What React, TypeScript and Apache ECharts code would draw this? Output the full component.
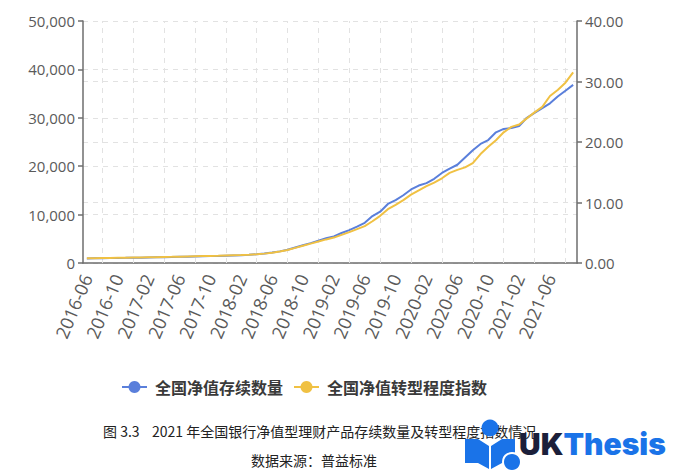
import React, { useEffect, useRef } from 'react';
import * as echarts from 'echarts';

const categories: string[] = [
  '2016-06', '2016-07', '2016-08', '2016-09', '2016-10', '2016-11', '2016-12',
  '2017-01', '2017-02', '2017-03', '2017-04', '2017-05', '2017-06', '2017-07', '2017-08', '2017-09', '2017-10', '2017-11', '2017-12',
  '2018-01', '2018-02', '2018-03', '2018-04', '2018-05', '2018-06', '2018-07', '2018-08', '2018-09', '2018-10', '2018-11', '2018-12',
  '2019-01', '2019-02', '2019-03', '2019-04', '2019-05', '2019-06', '2019-07', '2019-08', '2019-09', '2019-10', '2019-11', '2019-12',
  '2020-01', '2020-02', '2020-03', '2020-04', '2020-05', '2020-06', '2020-07', '2020-08', '2020-09', '2020-10', '2020-11', '2020-12',
  '2021-01', '2021-02', '2021-03', '2021-04', '2021-05', '2021-06', '2021-07', '2021-08', '2021-09',
];

const countData: number[] = [
  950, 970, 990, 1010, 1040, 1060, 1090, 1110, 1140, 1170,
  1200, 1240, 1280, 1310, 1350, 1390, 1430, 1470, 1520, 1570,
  1620, 1700, 1800, 1950, 2150, 2400, 2750, 3200, 3650, 4100,
  4600, 5100, 5500, 6200, 6800, 7500, 8300, 9700, 10600, 12200,
  13000, 14000, 15200, 16000, 16500, 17400, 18600, 19500, 20300, 21800,
  23300, 24600, 25400, 27000, 27700, 27900, 28300, 30000, 31000, 32000,
  33000, 34400, 35600, 36800,
];

const indexData: number[] = [
  0.78, 0.8, 0.82, 0.84, 0.86, 0.88, 0.9, 0.92, 0.95, 0.97,
  1.0, 1.02, 1.05, 1.08, 1.11, 1.14, 1.17, 1.2, 1.24, 1.28,
  1.32, 1.37, 1.44, 1.55, 1.7, 1.9, 2.15, 2.5, 2.85, 3.2,
  3.55, 3.9, 4.2, 4.65, 5.1, 5.6, 6.1, 6.9, 7.8, 8.9,
  9.6, 10.4, 11.3, 12.0, 12.7, 13.3, 14.0, 14.9, 15.4, 15.8,
  16.5, 18.0, 19.2, 20.3, 21.6, 22.5, 22.9, 23.9, 24.9, 25.8,
  27.6, 28.6, 29.8, 31.5,
];

const gridMonths: string[] = [
  '2016-08', '2016-12', '2017-04', '2017-08', '2017-12', '2018-04', '2018-08', '2018-12',
  '2019-04', '2019-08', '2019-12', '2020-04', '2020-08', '2020-12', '2021-04', '2021-08',
];

const seriesNames: string[] = ['全国净值存续数量', '全国净值转型程度指数'];
const captionNumber = '图 3.3';
const captionTitle = '2021 年全国银行净值型理财产品存续数量及转型程度指数情况';
const captionSource = '数据来源：普益标准';

const BLUE = '#5a7fdb';
const YELLOW = '#f0c143';
const AXIS = '#6e6e6e';
const LABEL = '#5a5a5a';
const GRIDLINE = '#e2e2e2';
const LATIN = '"Open Sans", "Noto Sans", sans-serif';
const CJK = '"Noto Sans CJK SC", sans-serif';

export default function App() {
  const ref = useRef<HTMLDivElement>(null);

  useEffect(() => {
    if (!ref.current) return;
    const chart = echarts.init(ref.current, undefined, { renderer: 'svg' });
    const splitLine = { show: true, lineStyle: { color: GRIDLINE, type: [5, 5] as any, width: 1 } };
    chart.setOption({
      animation: false,
      backgroundColor: '#ffffff',
      grid: { left: 83, right: 100, top: 21, bottom: 209, containLabel: false },
      legend: {
        left: 116,
        top: 374,
        itemWidth: 25,
        itemHeight: 15,
        itemGap: 10,
        data: seriesNames,
        textStyle: {
          fontFamily: CJK,
          fontSize: 16,
          fontWeight: 'bold',
          color: '#3a3a3a',
          padding: [0, 0, 0, 3],
        },
      },
      xAxis: {
        type: 'category',
        data: categories,
        boundaryGap: true,
        axisLine: { lineStyle: { color: AXIS, width: 1.5 } },
        axisTick: { alignWithLabel: true, interval: 3, length: 5, lineStyle: { color: AXIS, width: 1.5 } },
        axisLabel: {
          interval: 3,
          rotate: 67,
          margin: 12,
          color: LABEL,
          fontSize: 18,
          fontFamily: LATIN,
        },
        splitLine: { show: false },
      },
      yAxis: [
        {
          type: 'value',
          min: 0,
          max: 50000,
          interval: 10000,
          axisLine: { show: true, lineStyle: { color: AXIS, width: 1.5 } },
          axisTick: { show: true, length: 5, lineStyle: { color: AXIS, width: 1.5 } },
          axisLabel: {
            color: LABEL,
            fontSize: 15,
            fontFamily: LATIN,
            margin: 8,
            formatter: (v: number) => v.toLocaleString('en-US'),
          },
          splitLine,
        },
        {
          type: 'value',
          min: 0,
          max: 40,
          interval: 10,
          position: 'right',
          axisLine: { show: true, lineStyle: { color: AXIS, width: 1.5 } },
          axisTick: { show: true, length: 5, lineStyle: { color: AXIS, width: 1.5 } },
          axisLabel: {
            color: LABEL,
            fontSize: 15,
            fontFamily: LATIN,
            margin: 8,
            formatter: (v: number) => v.toFixed(2),
          },
          splitLine,
        },
      ],
      series: [
        {
          name: seriesNames[0],
          type: 'line',
          yAxisIndex: 0,
          data: countData,
          symbol: 'circle',
          showSymbol: false,
          lineStyle: { color: BLUE, width: 2 },
          itemStyle: { color: BLUE },
          z: 3,
          markLine: {
            silent: true,
            symbol: ['none', 'none'],
            label: { show: false },
            lineStyle: { color: GRIDLINE, type: [5, 5] as any, width: 1 },
            emphasis: { disabled: true },
            animation: false,
            z: 1,
            data: gridMonths.map((m) => ({ xAxis: m })),
          },
        },
        {
          name: seriesNames[1],
          type: 'line',
          yAxisIndex: 1,
          data: indexData,
          symbol: 'circle',
          showSymbol: false,
          lineStyle: { color: YELLOW, width: 2 },
          itemStyle: { color: YELLOW },
          z: 4,
        },
      ],
      graphic: [
        {
          type: 'text',
          left: 103,
          top: 424,
          style: { text: captionNumber, font: `14px ${CJK}`, fill: '#222222' },
        },
        {
          type: 'text',
          left: 152,
          top: 424,
          style: { text: captionTitle, font: `14px ${CJK}`, fill: '#222222' },
        },
        {
          type: 'text',
          x: 314,
          y: 460,
          style: { text: captionSource, font: `14px ${CJK}`, fill: '#222222', align: 'center', verticalAlign: 'middle' },
        },
        // watermark
        {
          type: 'polygon',
          shape: { points: [[465, 439], [478, 439], [489, 446], [489, 469], [478, 463], [465, 463]] },
          style: { fill: '#1a73e8' },
        },
        {
          type: 'polygon',
          shape: { points: [[515, 439], [502, 439], [491, 446], [491, 469], [502, 463], [515, 463]] },
          style: { fill: '#1a73e8' },
        },
        {
          type: 'circle',
          shape: { cx: 490, cy: 428, r: 8.5 },
          style: { fill: '#1a73e8' },
        },
        {
          type: 'circle',
          shape: { cx: 512, cy: 462, r: 9 },
          style: { fill: '#1a73e8', stroke: '#ffffff', lineWidth: 2 },
        },
        {
          type: 'text',
          x: 519,
          y: 459,
          style: {
            text: '{a|UK}{b|Thesis}',
            verticalAlign: 'bottom',
            rich: {
              a: { fontSize: 30, fontWeight: 900, fontFamily: '"Inter", "Roboto", sans-serif', fill: '#1b1f3a' },
              b: { fontSize: 30, fontWeight: 900, fontFamily: '"Inter", "Roboto", sans-serif', fill: '#1a73e8' },
            },
          },
        },
      ],
    });
    return () => chart.dispose();
  }, []);

  return (
    <div
      ref={ref}
      style={{ position: 'fixed', left: 0, top: 0, width: 677, height: 472, background: '#fff' }}
    />
  );
}
